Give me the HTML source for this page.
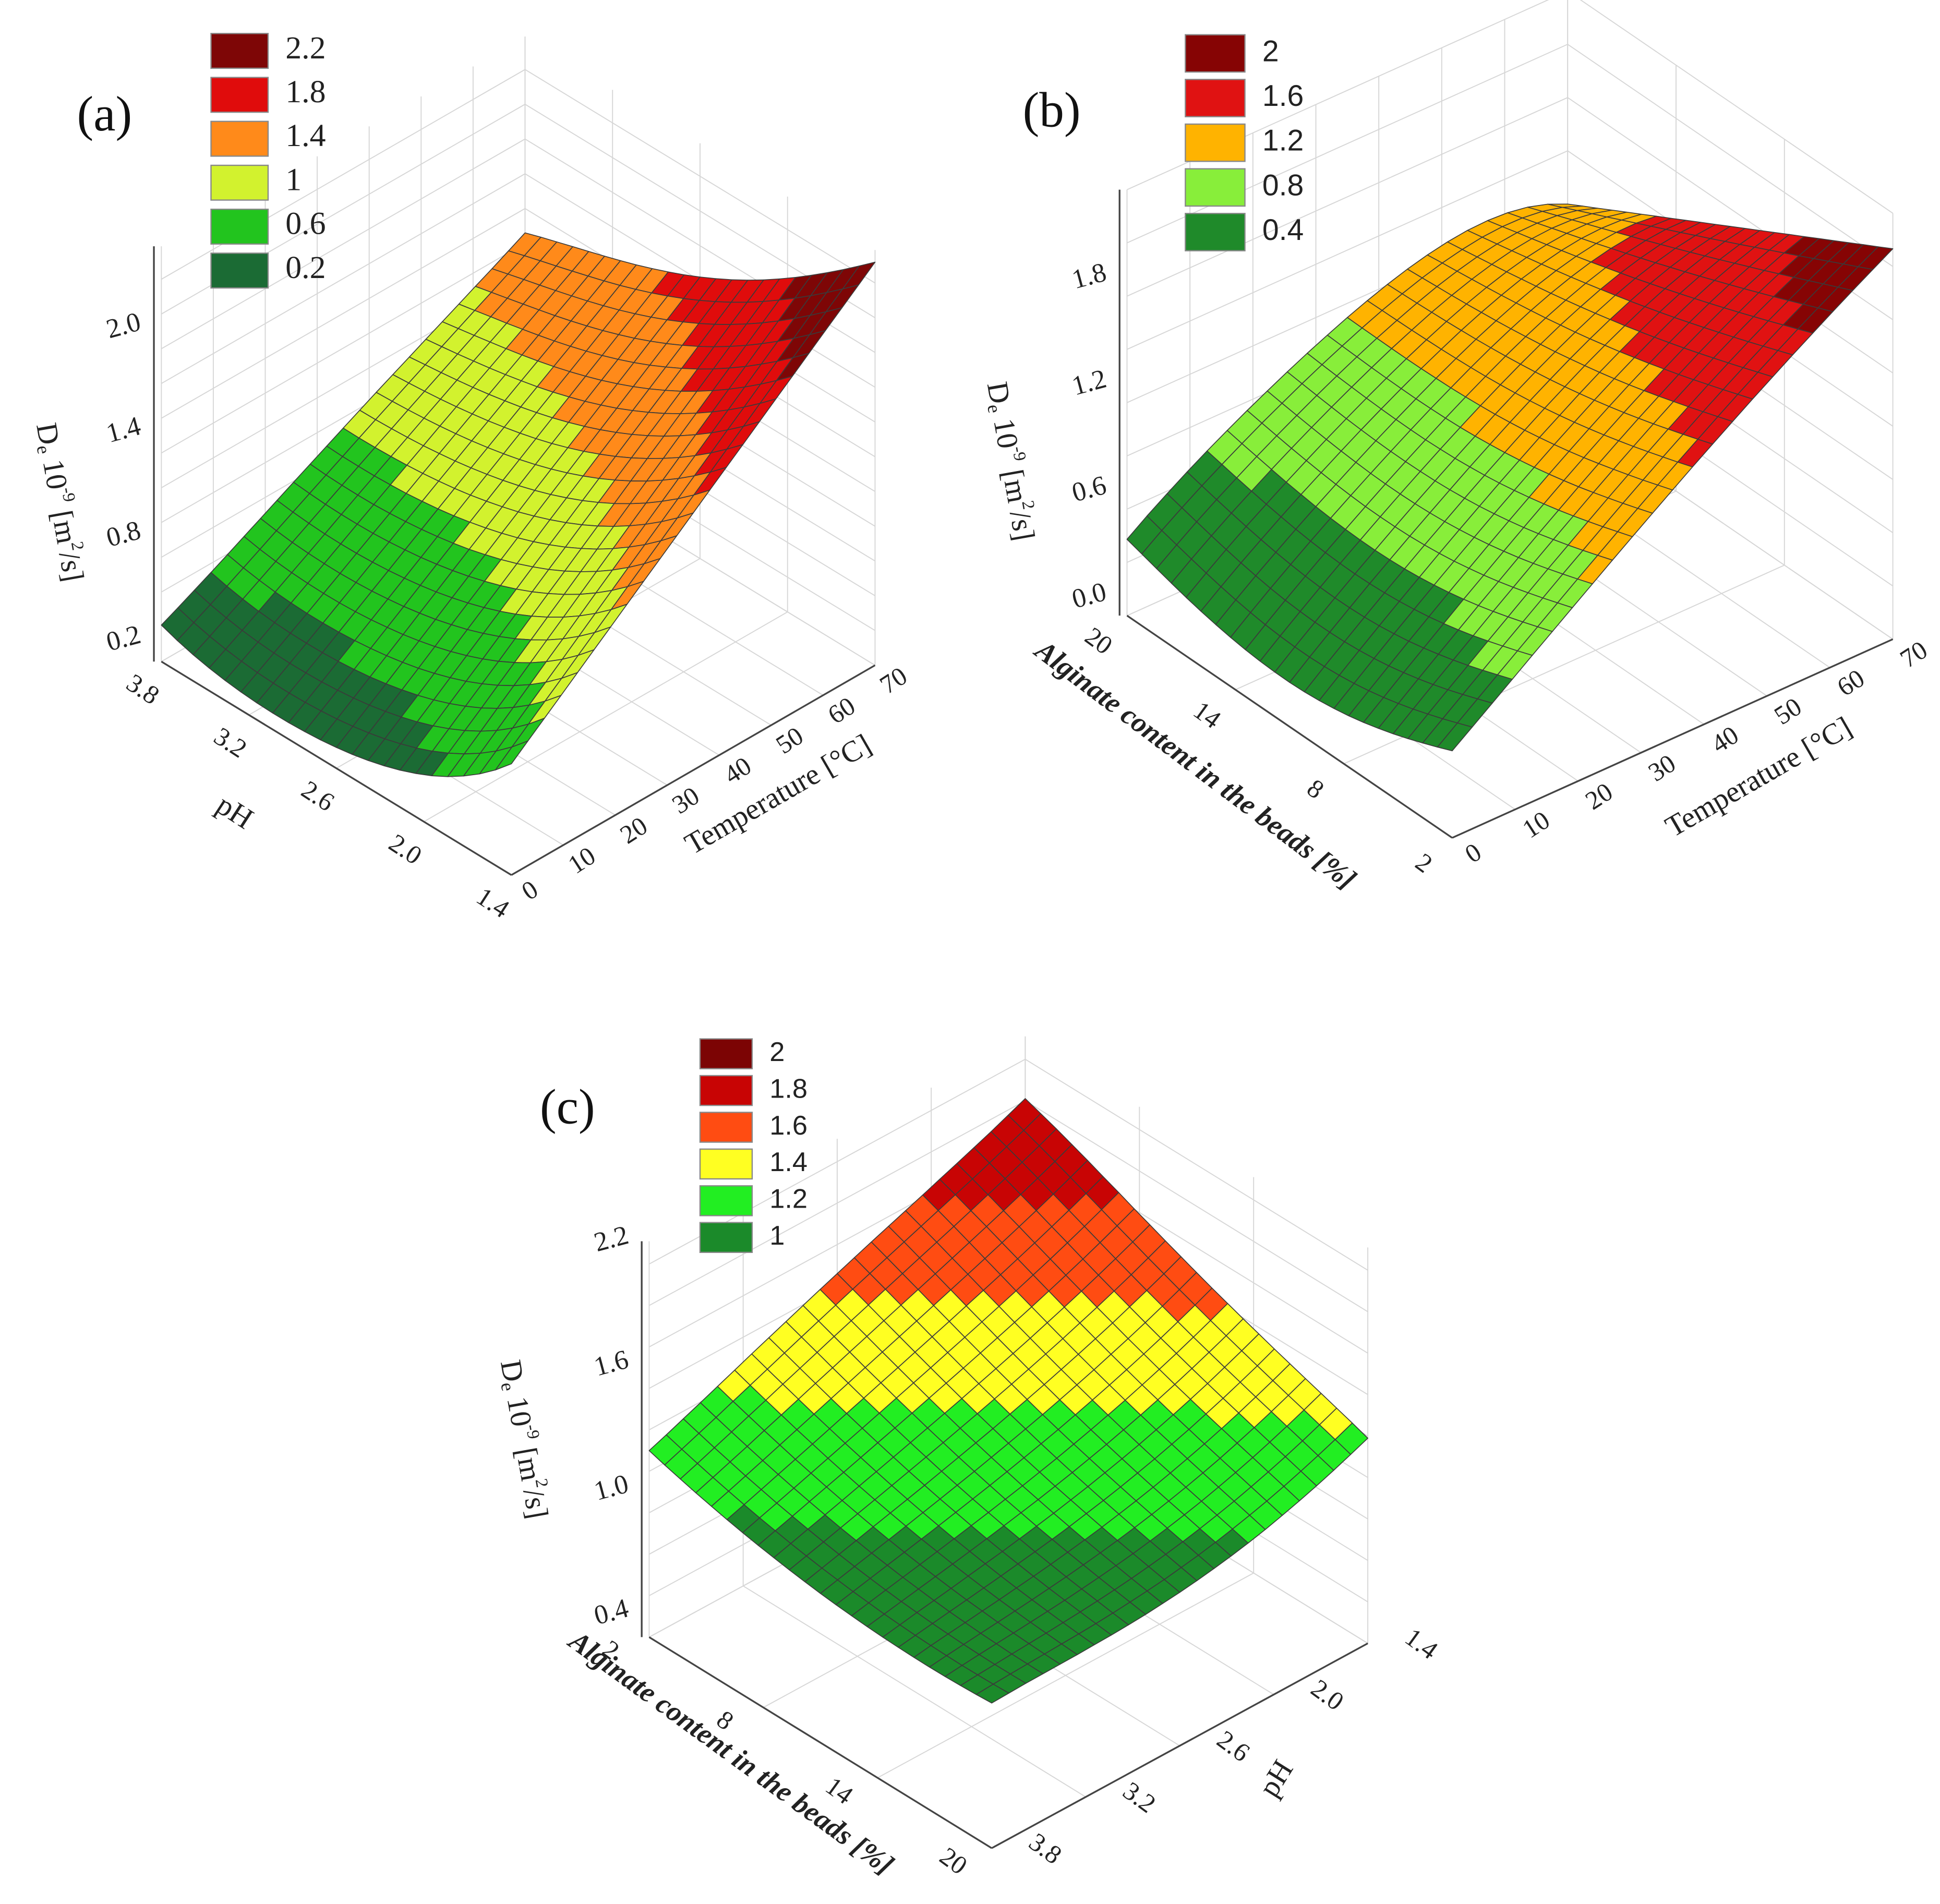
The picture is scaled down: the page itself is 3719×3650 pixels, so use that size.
<!DOCTYPE html>
<html><head><meta charset="utf-8"><style>
html,body{margin:0;padding:0;background:#fff;}
svg{display:block;}
</style></head><body>
<svg id="fig" xmlns="http://www.w3.org/2000/svg" width="3719" height="3650" viewBox="0 0 1563 1534" preserveAspectRatio="none">
<rect x="0" y="0" width="1563" height="1534" fill="#fff"/>
</svg>
<script>
// ---------- Panel (a): De vs pH (u) and Temperature (v) ----------
const aEdgeT0   = [0.29, 0.18, 0.20, 0.35, 0.72];   // T=0, pH 3.8 -> 1.4
const aEdgeT70  = [1.34, 1.50, 1.70, 2.00, 2.40];   // T=70, pH 3.8 -> 1.4
const aEdgePH38 = [0.29, 0.55, 0.82, 1.08, 1.34];   // pH 3.8, T 0 -> 70
const aEdgePH14 = [0.72, 1.14, 1.56, 1.98, 2.40];   // pH 1.4, T 0 -> 70
const aUTicks = ["3.8","3.2","2.6","2.0","1.4"];
const aVTicks = ["0","10","20","30","40","50","60","70"];
const aZTicks = [0.2, 0.8, 1.4, 2.0];
const aLevels = [0.2, 0.6, 1.0, 1.4, 1.8, 2.2];
const aLegend = ["2.2","1.8","1.4","1","0.6","0.2"];

// ---------- Panel (b): De vs Alginate (u) and Temperature (v) ----------
const bEdgeT0   = [0.33, 0.20, 0.15, 0.22, 0.39];   // T=0, alg 20 -> 2
const bEdgeT70  = [1.10, 1.35, 1.60, 1.85, 2.10];   // T=70, alg 20 -> 2
const bEdgeA20  = [0.33, 0.72, 1.02, 1.20, 1.10];   // alg 20, T 0 -> 70
const bEdgeA2   = [0.39, 0.85, 1.30, 1.72, 2.10];   // alg 2, T 0 -> 70
const bUTicks = ["20","14","8","2"];
const bVTicks = ["0","10","20","30","40","50","60","70"];
const bZTicks = [0.0, 0.6, 1.2, 1.8];
const bLevels = [0.4, 0.8, 1.2, 1.6, 2.0];
const bLegend = ["2","1.6","1.2","0.8","0.4"];

// ---------- Panel (c): De vs Alginate (u) and pH (v) ----------
const cEdgePH38 = [1.19, 1.08, 1.01, 0.98, 0.99];   // pH 3.8, alg 2 -> 20
const cEdgePH14 = [1.90, 1.74, 1.57, 1.42, 1.28];   // pH 1.4, alg 2 -> 20
const cEdgeA2   = [1.19, 1.37, 1.55, 1.72, 1.90];   // alg 2, pH 3.8 -> 1.4
const cEdgeA20  = [0.99, 1.00, 1.03, 1.12, 1.28];   // alg 20, pH 3.8 -> 1.4
const cUTicks = ["2","8","14","20"];
const cVTicks = ["3.8","3.2","2.6","2.0","1.4"];
const cZTicks = [0.4, 1.0, 1.6, 2.2];
const cLevels = [1.0, 1.2, 1.4, 1.6, 1.8, 2.0];
const cLegend = ["2","1.8","1.6","1.4","1.2","1"];

const NS = "http://www.w3.org/2000/svg";
const svg = document.getElementById("fig");
function mk(tag, attrs, parent){
  const e = document.createElementNS(NS, tag);
  for (const k in attrs) e.setAttribute(k, attrs[k]);
  (parent||svg).appendChild(e);
  return e;
}
function lag(arr, t){
  const n = arr.length, x = t*(n-1); let s = 0;
  for (let i=0;i<n;i++){ let p = arr[i];
    for (let j=0;j<n;j++) if (j!==i) p *= (x-j)/(i-j);
    s += p; }
  return s;
}
function drawPanel(P){
  const g = mk("g", {});
  
  
  const du=[P.F[0]-P.L[0],P.F[1]-P.L[1]], dv=[P.B[0]-P.L[0],P.B[1]-P.L[1]];
  const pt=(u,v,z)=>[P.L[0]+u*du[0]+v*dv[0], P.L[1]+u*du[1]+v*dv[1]-(z-P.zmin)*P.k];
  const zAt=(u,v)=>{
    const c00=P.ev0[0],c10=P.ev0[4],c01=P.ev1[0],c11=P.ev1[4];
    return (1-v)*lag(P.ev0,u)+v*lag(P.ev1,u)+(1-u)*lag(P.fu0,v)+u*lag(P.fu1,v)
      -((1-u)*(1-v)*c00+u*(1-v)*c10+(1-u)*v*c01+u*v*c11);
  };
  const line=(a,b,col,w,name)=>{const l=mk("line",{x1:a[0],y1:a[1],x2:b[0],y2:b[1],stroke:col,"stroke-width":w},g);
    
     return l;};
  const gc="#d6d6d6";
  const nu=P.uT.length-1, nv=P.vT.length-1;
  for(let i=0;i<=nv;i++){const v=i/nv;
    line(pt(0,v,P.zmin),pt(0,v,P.zmax),gc,0.8,'wall-grid-line');
    line(pt(0,v,P.zmin),pt(1,v,P.zmin),gc,0.8,'floor-grid-line');}
  for(let i=0;i<=nu;i++){const u=i/nu;
    line(pt(u,1,P.zmin),pt(u,1,P.zmax),gc,0.8,'wall-grid-line');
    line(pt(u,0,P.zmin),pt(u,1,P.zmin),gc,0.8,'floor-grid-line');}
  const zs=[];for(let z=P.zmin;z<=P.zmax+1e-6;z+=P.zstep)zs.push(z);
  zs.forEach(z=>{line(pt(0,0,z),pt(0,1,z),gc,0.8,'wall-grid-line');line(pt(0,1,z),pt(1,1,z),gc,0.8,'wall-grid-line');});
  line(pt(0,0,P.zmin),pt(1,0,P.zmin),"#444",1.4,'u-axis-line');
  line(pt(1,0,P.zmin),pt(1,1,P.zmin),"#444",1.4,'v-axis-line');
  line([pt(0,0,P.zmin)[0]-6,pt(0,0,P.zmin)[1]],[pt(0,0,P.zmax)[0]-6,pt(0,0,P.zmax)[1]],"#444",1.4,'z-axis-line');
  const N=22, quads=[];
  for(let i=0;i<N;i++)for(let j=0;j<N;j++){
    const u0=i/N,u1=(i+1)/N,v0=j/N,v1=(j+1)/N;
    const zc=zAt((u0+u1)/2,(v0+v1)/2);
    quads.push({key:(u0+u1)/2-(v0+v1)/2,zc,p:[pt(u0,v0,zAt(u0,v0)),pt(u1,v0,zAt(u1,v0)),pt(u1,v1,zAt(u1,v1)),pt(u0,v1,zAt(u0,v1))]});
  }
  quads.sort((a,b)=>a.key-b.key);
  const sg=mk("g",{},g);
  
  
  quads.forEach(q=>{
    let ci=0,best=1e9;
    P.levels.forEach((l,k)=>{const d=Math.abs(q.zc-l); if(d<best){best=d;ci=k;}});
    const poly=mk("polygon",{points:q.p.map(p=>p[0].toFixed(1)+","+p[1].toFixed(1)).join(" "),fill:P.colors[ci],stroke:"#3a3a3a","stroke-width":0.7,"stroke-linejoin":"round"},sg);
    
    
  });
  const txt=(s,x,y,rot,size,name,extra)=>{const t=mk("text",Object.assign({x:x,y:y,"font-family":P.font,"font-size":size,fill:"#222","text-anchor":"middle","dominant-baseline":"middle",transform:`rotate(${rot} ${x} ${y})`},extra||{}),g);
    t.textContent=s;
    
     return t;};
  P.uT.forEach((s,i)=>{const p=pt(i/nu,0,P.zmin);txt(s,p[0]+P.uOff[0],p[1]+P.uOff[1],P.uRot,21,'u-tick-label','');});
  P.vT.forEach((s,i)=>{const p=pt(1,i/nv,P.zmin);txt(s,p[0]+P.vOff[0],p[1]+P.vOff[1],P.vRot,21,'v-tick-label','');});
  P.zT.forEach(z=>{const p=pt(0,0,z);txt(z.toFixed(1),p[0]-30,p[1],-15,22,'z-tick-label','');});
  P.titles.forEach(t=>{txt(t.s,t.x,t.y,t.r,t.size,t.name,{"font-style":t.it?"italic":"normal","font-weight":t.bold?"bold":"normal"});});
  const zt=txt("",P.zTitle[0],P.zTitle[1],80,24,'z-axis-title');
  zt.innerHTML='D<tspan font-size="15" dy="5">e</tspan><tspan dy="-5"> 10</tspan><tspan font-size="14" dy="-9">-9</tspan><tspan dy="9"> [m</tspan><tspan font-size="14" dy="-9">2</tspan><tspan dy="9">/s]</tspan>';
  P.legend.forEach((s,i)=>{
    const y=P.leg[1]+i*P.leg[4];
    const r=mk("rect",{x:P.leg[0],y:y,width:P.leg[2],height:P.leg[3],fill:P.colors[P.colors.length-1-i],stroke:"#888","stroke-width":1},g);
    
    
    const t=mk("text",{x:P.leg[0]+P.leg[2]+14,y:y+P.leg[3]/2,"font-family":P.legFont,"font-size":P.legSize,fill:"#222","dominant-baseline":"middle"},g);
    t.textContent=s;
    
    
  });
  const lab=mk("text",{x:P.lab[0],y:P.lab[1],"font-family":"Liberation Serif, serif","font-size":40,fill:"#111"},g);
  lab.textContent=P.labText;
  
  
}
const SERIF='"Liberation Serif", serif', SANS='"Liberation Sans", sans-serif';
drawPanel({name:'panel-a',L:[130,533],F:[412,705],B:[423,364],zmin:0.08,zmax:2.47,zstep:0.2,k:140,
  ev0:aEdgeT0,ev1:aEdgeT70,fu0:aEdgePH38,fu1:aEdgePH14,uT:aUTicks,vT:aVTicks,zT:aZTicks,
  levels:aLevels,colors:["#1b6b34","#22c41e","#d2f22e","#ff8a1a","#e00c0c","#7e0606"],
  uOff:[-16,24],uRot:33,vOff:[16,14],vRot:-33,font:SERIF,
  titles:[{s:"pH",x:188,y:656,r:33,size:24,name:'u-axis-title'},{s:"Temperature [°C]",x:628,y:642,r:-30,size:24,name:'v-axis-title'}],
  zTitle:[46,405],legend:aLegend,leg:[170,27,46,28,35.4],legFont:SERIF,legSize:26,lab:[62,105],labText:"(a)"});
drawPanel({name:'panel-b',L:[908,496],F:[1170,675],B:[1263,336],zmin:-0.1,zmax:2.3,zstep:0.3,k:143,
  ev0:bEdgeT0,ev1:bEdgeT70,fu0:bEdgeA20,fu1:bEdgeA2,uT:bUTicks,vT:bVTicks,zT:bZTicks,
  levels:bLevels,colors:["#1f8a2a","#88ee3a","#ffb300","#e01212","#860404"],
  uOff:[-24,22],uRot:36,vOff:[18,14],vRot:-33,font:SERIF,
  titles:[{s:"Alginate content in the beads [%]",x:962,y:618,r:37,size:23,name:'u-axis-title',it:true,bold:true},{s:"Temperature [°C]",x:1418,y:628,r:-30,size:24,name:'v-axis-title'}],
  zTitle:[812,372],legend:bLegend,leg:[955,28,48,30,36],legFont:SANS,legSize:24,lab:[824,102],labText:"(b)"});
drawPanel({name:'panel-c',L:[523,1319],F:[799,1489],B:[826,1154],zmin:0.29,zmax:2.2,zstep:0.2,k:167,
  ev0:cEdgePH38,ev1:cEdgePH14,fu0:cEdgeA2,fu1:cEdgeA20,uT:cUTicks,vT:cVTicks,zT:cZTicks,
  levels:cLevels,colors:["#1b8a2a","#22ee22","#ffff22","#ff4c12","#c80404","#7c0404"],
  uOff:[-32,12],uRot:36,vOff:[42,2],vRot:36,font:SERIF,
  titles:[{s:"Alginate content in the beads [%]",x:588,y:1414,r:36,size:23,name:'u-axis-title',it:true,bold:true},{s:"pH",x:1030,y:1434,r:-58,size:24,name:'v-axis-title'}],
  zTitle:[420,1160],legend:cLegend,leg:[564,837,42,24,29.6],legFont:SANS,legSize:22,lab:[435,905],labText:"(c)"});
</script>
</body></html>
